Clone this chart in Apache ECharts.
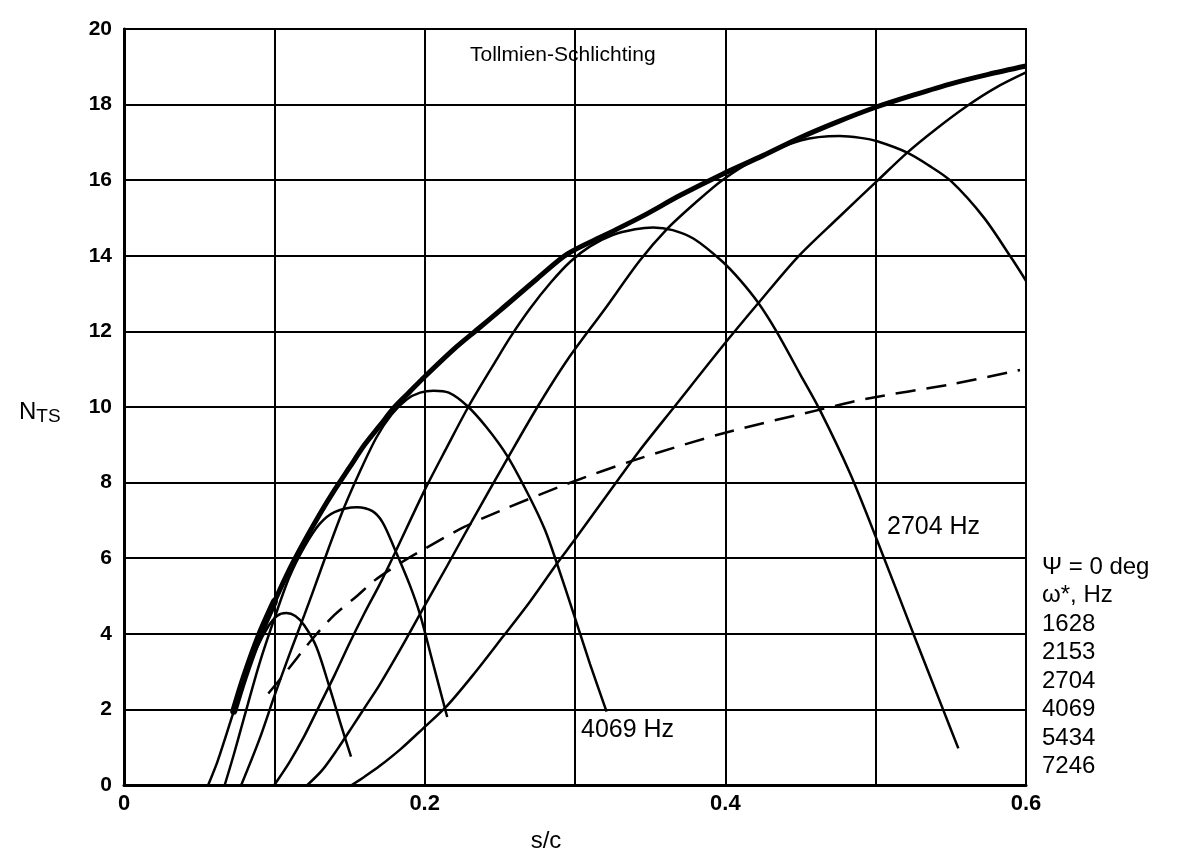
<!DOCTYPE html>
<html><head><meta charset="utf-8">
<script src="https://cdn.jsdelivr.net/npm/echarts@6/dist/echarts.min.js"></script>
<style>html,body{margin:0;padding:0;background:#fff}#c{width:1181px;height:867px}</style>
</head><body><div id="c"></div>
<script>
// ---- tick labels ----
const xTickLabels = ['0', '', '0.2', '', '0.4', '', '0.6'];
const yTickLabels = ['0', '2', '4', '6', '8', '10', '12', '14', '16', '18', '20'];

// ---- N-factor curves  [s/c, N] ----
const f7246 = [[0.056,0],[0.062,0.6],[0.067,1.2],[0.073,1.95],[0.08,2.8],[0.088,3.6],[0.096,4.2],[0.102,4.48],[0.108,4.55],[0.114,4.47],[0.12,4.22],[0.128,3.65],[0.137,2.55],[0.144,1.63],[0.151,0.75]];
const f5434 = [[0.067,0],[0.073,0.8],[0.08,1.8],[0.09,3.2],[0.1,4.4],[0.11,5.5],[0.12,6.3],[0.13,6.9],[0.14,7.22],[0.155,7.35],[0.165,7.25],[0.172,6.95],[0.18,6.25],[0.19,5.3],[0.197,4.5],[0.205,3.3],[0.215,1.8]];
const f4069 = [[0.078,0],[0.09,1.2],[0.1,2.35],[0.11,3.45],[0.12,4.5],[0.126,5.15],[0.136,6.25],[0.146,7.3],[0.157,8.3],[0.168,9.2],[0.178,9.8],[0.188,10.2],[0.197,10.38],[0.206,10.43],[0.216,10.38],[0.228,10.04],[0.241,9.47],[0.255,8.7],[0.27,7.6],[0.28,6.75],[0.288,5.86],[0.299,4.54],[0.31,3.2],[0.321,1.94]];
const f2704 = [[0.1,0],[0.11,0.6],[0.12,1.3],[0.13,2.1],[0.14,2.9],[0.15,3.75],[0.16,4.55],[0.17,5.3],[0.18,6.12],[0.2,7.8],[0.215,8.95],[0.229,10.0],[0.247,11.2],[0.257,11.85],[0.27,12.6],[0.284,13.3],[0.297,13.85],[0.31,14.25],[0.325,14.55],[0.34,14.7],[0.352,14.75],[0.365,14.68],[0.379,14.45],[0.398,13.85],[0.41,13.35],[0.422,12.75],[0.434,12.0],[0.45,10.85],[0.463,9.91],[0.483,8.24],[0.501,6.47],[0.525,4.01],[0.545,1.98],[0.555,0.97]];
const f2153 = [[0.122,0],[0.132,0.4],[0.142,0.95],[0.152,1.55],[0.161,2.1],[0.17,2.65],[0.184,3.6],[0.198,4.6],[0.215,5.8],[0.231,6.95],[0.256,8.7],[0.275,10.0],[0.295,11.25],[0.32,12.6],[0.343,13.87],[0.361,14.7],[0.38,15.4],[0.398,16.0],[0.42,16.55],[0.45,17.05],[0.476,17.17],[0.49,17.12],[0.501,17.03],[0.521,16.73],[0.535,16.4],[0.55,15.98],[0.572,15.01],[0.59,13.96],[0.6,13.34]];
const f1628 = [[0.1515,0],[0.16,0.22],[0.17,0.5],[0.184,0.95],[0.199,1.5],[0.215,2.1],[0.233,2.95],[0.252,3.92],[0.27,4.85],[0.288,5.86],[0.3,6.5],[0.32,7.6],[0.343,8.85],[0.366,10.0],[0.398,11.6],[0.422,12.75],[0.448,13.96],[0.475,15.0],[0.501,15.98],[0.521,16.73],[0.54,17.35],[0.561,17.97],[0.58,18.45],[0.6,18.85]];
const envelope = [[0.073,1.95],[0.08,2.85],[0.09,3.95],[0.1,4.85],[0.11,5.7],[0.12,6.45],[0.13,7.15],[0.14,7.8],[0.15,8.4],[0.16,9.0],[0.17,9.5],[0.18,10.0],[0.19,10.4],[0.2,10.8],[0.22,11.55],[0.235,12.05],[0.25,12.55],[0.275,13.4],[0.295,14.05],[0.32,14.55],[0.345,15.05],[0.37,15.6],[0.398,16.16],[0.425,16.65],[0.45,17.13],[0.475,17.55],[0.5,17.93],[0.525,18.25],[0.55,18.55],[0.575,18.8],[0.6,19.02]];
const dashedCurve = [[0.096,2.42],[0.11,3.1],[0.125,3.85],[0.14,4.5],[0.155,5.0],[0.167,5.42],[0.185,5.9],[0.2,6.25],[0.226,6.82],[0.25,7.25],[0.295,7.97],[0.34,8.6],[0.4,9.32],[0.465,9.95],[0.494,10.22],[0.55,10.6],[0.596,10.98]];

// ---- annotation texts ----
const legendLines = ['\u03A8 = 0 deg', 'ω*, Hz', '1628', '2153', '2704', '4069', '5434', '7246'];

const FONT = '"Liberation Sans", Arial, Helvetica, sans-serif';
const chart = echarts.init(document.getElementById('c'), null, {renderer: 'canvas'});

function curve(name, data, width, dashed, cap) {
  return {
    name: name, type: 'line', data: data, symbol: 'none', showSymbol: false,
    smooth: 0.3, silent: true, clip: false,
    lineStyle: {color: '#000', width: width, type: dashed ? [20, 11] : 'solid', cap: cap || 'butt'}
  };
}

const graphics = [];
graphics.push({type: 'text', x: 470, y: 55, style: {text: 'Tollmien-Schlichting', fill: '#000', fontSize: 21, fontFamily: FONT, align: 'left', verticalAlign: 'middle'}});
graphics.push({type: 'text', x: 581, y: 730, style: {text: '4069 Hz', fill: '#000', fontSize: 25, fontFamily: FONT, align: 'left', verticalAlign: 'middle'}});
graphics.push({type: 'text', x: 887, y: 527, style: {text: '2704 Hz', fill: '#000', fontSize: 25, fontFamily: FONT, align: 'left', verticalAlign: 'middle'}});
graphics.push({type: 'text', x: 546, y: 841, style: {text: 's/c', fill: '#000', fontSize: 24, fontFamily: FONT, align: 'center', verticalAlign: 'middle'}});
graphics.push({type: 'text', x: 19, y: 412, style: {
  text: '{n|N}{s|TS}', fill: '#000', fontFamily: FONT, align: 'left', verticalAlign: 'middle',
  rich: {n: {fontSize: 24, fontFamily: FONT}, s: {fontSize: 19, fontFamily: FONT, padding: [10, 0, 0, 0]}}
}});
legendLines.forEach(function (t, i) {
  graphics.push({type: 'text', x: 1042, y: 567 + i * 28.5, style: {text: t, fill: '#000', fontSize: 24, fontFamily: FONT, align: 'left', verticalAlign: 'middle'}});
});

const option = {
  animation: false,
  backgroundColor: '#fff',
  grid: {left: 124, right: 155, top: 29, bottom: 82, show: true, borderColor: '#000', borderWidth: 2, backgroundColor: 'transparent'},
  xAxis: {
    type: 'value', min: 0, max: 0.6, interval: 0.1,
    axisLine: {show: true, onZero: false, lineStyle: {color: '#000', width: 3}},
    axisTick: {show: false},
    splitLine: {show: true, lineStyle: {color: '#000', width: 2}},
    axisLabel: {color: '#000', fontSize: 22, fontWeight: 'bold', fontFamily: FONT, margin: 8, showMinLabel: true, showMaxLabel: true,
      formatter: function (v) { return xTickLabels[Math.round(v * 10)]; }}
  },
  yAxis: {
    type: 'value', min: 0, max: 20, interval: 2,
    axisLine: {show: true, onZero: false, lineStyle: {color: '#000', width: 3}},
    axisTick: {show: false},
    splitLine: {show: true, lineStyle: {color: '#000', width: 2}},
    axisLabel: {color: '#000', fontSize: 21, fontWeight: 'bold', fontFamily: FONT, margin: 12,
      formatter: function (v) { return yTickLabels[Math.round(v / 2)]; }}
  },
  series: [
    curve('envelope', envelope, 5, false),
    curve('envelope start', envelope.slice(0, 4), 7, false, 'round'),
    curve('7246', f7246, 2.5, false),
    curve('5434', f5434, 2.5, false),
    curve('4069', f4069, 2.5, false),
    curve('2704', f2704, 2.5, false),
    curve('2153', f2153, 2.5, false),
    curve('1628', f1628, 2.5, false),
    curve('dashed', dashedCurve, 2.5, true)
  ],
  graphic: graphics
};
chart.setOption(option);
</script></body></html>
